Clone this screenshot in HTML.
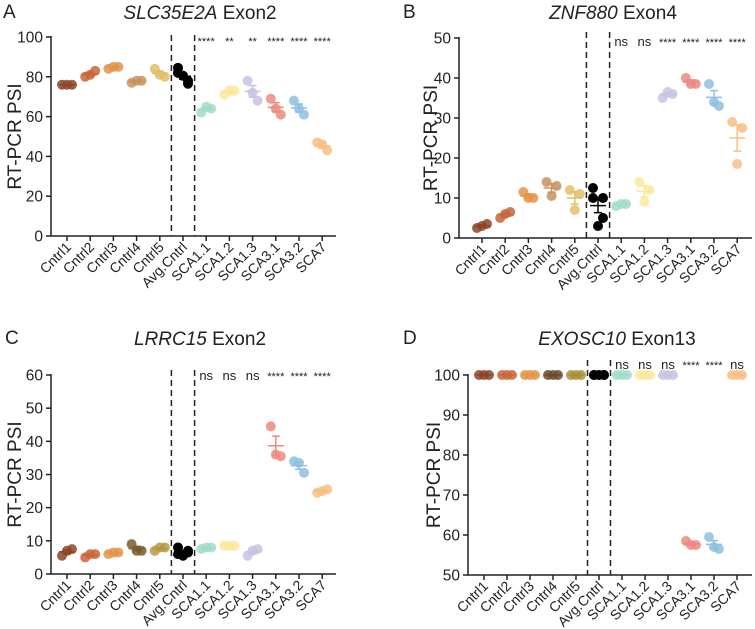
<!DOCTYPE html>
<html><head><meta charset="utf-8">
<style>
html,body{margin:0;padding:0;background:#fff;}
svg{display:block;font-family:"Liberation Sans",Arial,sans-serif;}
</style></head>
<body>
<svg id="fig" width="755" height="629" viewBox="0 0 755 629" xmlns="http://www.w3.org/2000/svg"></svg>
<script>
const categories = ["Cntrl1","Cntrl2","Cntrl3","Cntrl4","Cntrl5","Avg.Cntrl","SCA1.1","SCA1.2","SCA1.3","SCA3.1","SCA3.2","SCA7"];
const colorsBase = ["#8c4526","#c8663a","#e39447","#c7925f","#dfc068","#000000","#9fdcc9","#fbe79a","#c8c3e0","#ec8a80","#8fbfe0","#f7bf84"];
const colorsC = ["#8c4526","#c8663a","#e39447","#7a5a2e","#b8983e","#000000","#9fdcc9","#fbe79a","#c8c3e0","#ec8a80","#8fbfe0","#f7bf84"];
const colorsD = ["#8c4526","#c8663a","#e39447","#6b4a2a","#a8903a","#000000","#9fdcc9","#fbe79a","#c8c3e0","#ec8a80","#8fbfe0","#f7bf84"];

const valuesA = [[76,76,76],[80,83,81],[84,85,85],[77,78,78],[84,80,81],[84.5,76.5,82,78,80.5],[62,64,65],[71,73,73],[78,68,72],[69,61,64],[68,61,64],[47,43,46]];
const valuesB = [[2.5,3.5,3],[5,6.5,6],[11.5,10,10],[14,13,10.5],[12,11,7],[12.5,10,10,5,3],[8,8.5,8.5],[14,12,9],[35,36,36.5],[40,38.5,38.5],[38.5,33,34],[29,27.5,18.5]];
const valuesC = [[5.5,7.5,7],[5,6,6],[6,6.5,6.5],[9,7,7],[7,8,8],[8,7,6,6.5,5.5],[7.5,8,8],[8.5,8.5,8.5],[5.5,7.5,7],[44.5,35.5,36],[34,30.5,33.5],[24.5,25.5,25]];
const valuesD = [[100,100,100],[100,100,100],[100,100,100],[100,100,100],[100,100,100],[100,100,100,100,100],[100,100,100],[100,100,100],[100,100,100],[58.5,57.5,57.5],[59.5,56.5,57],[100,100,100]];

const sigA = ["****","**","**","****","****","****"];
const sigB = ["ns","ns","****","****","****","****"];
const sigC = ["ns","ns","ns","****","****","****"];
const sigD = ["ns","ns","ns","****","****","ns"];

const ticksA = [0,20,40,60,80,100];
const ticksB = [0,10,20,30,40,50];
const ticksC = [0,10,20,30,40,50,60];
const ticksD = [50,60,70,80,90,100];

const NS = "http://www.w3.org/2000/svg";
const svg = document.getElementById("fig");
function mk(tag, attrs, parent, text){
  const e = document.createElementNS(NS, tag);
  for (const k in attrs) e.setAttribute(k, attrs[k]);
  if (text !== undefined) e.textContent = text;
  (parent || svg).appendChild(e);
  return e;
}

function panel(p){
  const g = mk("g", {});
  
  
  const ymin = p.ticks[0], ymax = p.ticks[p.ticks.length-1];
  const yS = v => p.y0 + (v - ymin) / (ymax - ymin) * (p.y1 - p.y0);
  const xS = i => p.cx0 + i * p.step;

  const L = mk("text", {x:p.lx, y:p.ly, "font-size":19, fill:"#222"}, g, p.letter);
  
  
  const T = mk("text", {x:p.tx, y:p.ty, "font-size":19, "text-anchor":"middle", fill:"#222"}, g);
  
  
  mk("tspan", {"font-style":"italic"}, T, p.gene);
  mk("tspan", {}, T, " " + p.exon);

  const yl = mk("text", {x:0, y:0, "font-size":19, "text-anchor":"middle", fill:"#222",
    transform:`translate(${p.ylx},${(p.y0+p.y1)/2}) rotate(-90)`}, g, "RT-PCR PSI");
  
  

  const ax = mk("path", {d:`M${p.ax0},${p.y1-1}V${p.y0}H${p.ax1}`, stroke:"#222", "stroke-width":1.5, fill:"none"}, g);
  
  

  p.ticks.forEach(t => {
    const y = yS(t);
    mk("line", {x1:p.ax0-5, x2:p.ax0, y1:y, y2:y, stroke:"#222", "stroke-width":1.5}, g);
    const tl = mk("text", {x:p.ax0-8, y:y+5.5, "font-size":15.5, "text-anchor":"end", fill:"#222"}, g, t);
    
    
  });

  categories.forEach((c, i) => {
    const x = xS(i);
    mk("line", {x1:x, x2:x, y1:p.y0, y2:p.y0+5, stroke:"#222", "stroke-width":1.5}, g);
    const tl = mk("text", {x:0, y:0, "font-size":14, "text-anchor":"end", fill:"#222",
      transform:`translate(${x+5},${p.y0+12}) rotate(-45)`}, g, c);
    
    
  });

  [4.5, 5.5].forEach(k => {
    const x = xS(k);
    const d = mk("line", {x1:x, x2:x, y1:p.dashTop, y2:p.y0, stroke:"#222", "stroke-width":1.5, "stroke-dasharray":"6,4"}, g);
    
    
  });

  p.values.forEach((vals, i) => {
    const cx = xS(i);
    const n = vals.length;
    const offs = n === 5 ? [-5,5,-5,5,0] : [-5,5,0];
    const mean = vals.reduce((a,b)=>a+b,0)/n;
    const sd = Math.sqrt(vals.reduce((a,b)=>a+(b-mean)*(b-mean),0)/(n-1));
    const sem = sd/Math.sqrt(n);
    const col = p.colors[i];
    const op = i === 5 ? 1 : 0.85;
    vals.forEach((v, j) => {
      const c = mk("circle", {cx:cx+offs[j], cy:yS(v), r:5, fill:col, "fill-opacity":op}, g);
      
      
    });
    const eg = mk("g", {stroke:col, "stroke-width":1.5}, g);
    
    
    mk("line", {x1:cx-8, x2:cx+8, y1:yS(mean), y2:yS(mean)}, eg);
    mk("line", {x1:cx, x2:cx, y1:yS(mean-sem), y2:yS(mean+sem)}, eg);
    mk("line", {x1:cx-4, x2:cx+4, y1:yS(mean-sem), y2:yS(mean-sem)}, eg);
    mk("line", {x1:cx-4, x2:cx+4, y1:yS(mean+sem), y2:yS(mean+sem)}, eg);
  });

  p.sig.forEach((s, k) => {
    const x = xS(6 + k);
    const st = mk("text", {x:x, y:p.sigY, "font-size": s === "ns" ? 13 : 11, "text-anchor":"middle", fill:"#222"}, g, s);
    
    
  });
}

panel({letter:"A", gene:"SLC35E2A", exon:"Exon2", lx:3, ly:18, tx:200, ty:19, ylx:21,
  ax0:51, ax1:336, y0:236, y1:37, cx0:67, step:23.2, dashTop:35, sigY:45,
  ticks:ticksA, values:valuesA, colors:colorsBase, sig:sigA});
panel({letter:"B", gene:"ZNF880", exon:"Exon4", lx:403, ly:18, tx:613, ty:19, ylx:437,
  ax0:459, ax1:752, y0:238, y1:38, cx0:482, step:23.2, dashTop:32, sigY:46,
  ticks:ticksB, values:valuesB, colors:colorsBase, sig:sigB});
panel({letter:"C", gene:"LRRC15", exon:"Exon2", lx:5, ly:344, tx:200, ty:345, ylx:21,
  ax0:51, ax1:336, y0:574, y1:375, cx0:67, step:23.2, dashTop:370, sigY:380,
  ticks:ticksC, values:valuesC, colors:colorsC, sig:sigC});
panel({letter:"D", gene:"EXOSC10", exon:"Exon13", lx:403, ly:344, tx:617, ty:345, ylx:440,
  ax0:468, ax1:752, y0:575, y1:375, cx0:484, step:23.0, dashTop:360, sigY:369,
  ticks:ticksD, values:valuesD, colors:colorsD, sig:sigD});
</script>
</body></html>
